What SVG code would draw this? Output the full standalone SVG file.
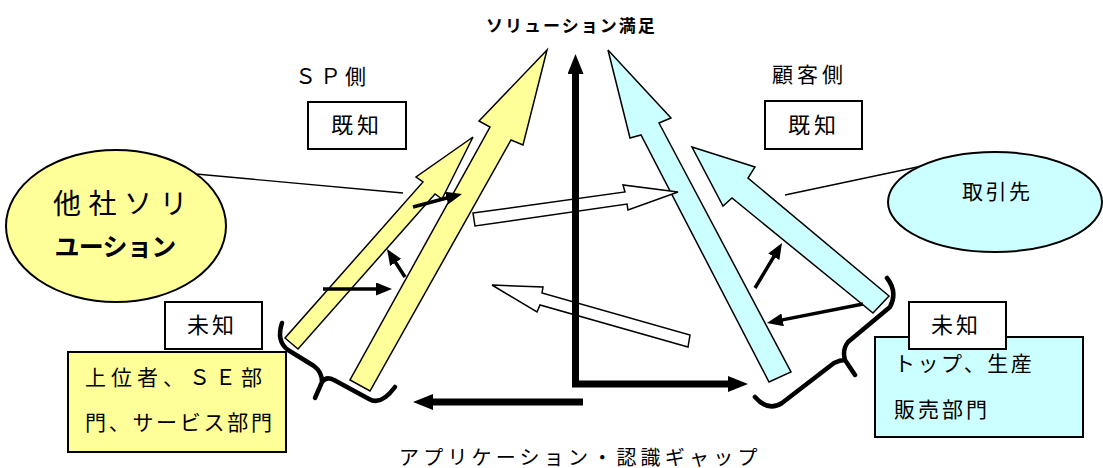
<svg xmlns="http://www.w3.org/2000/svg" width="1103" height="468" viewBox="0 0 1103 468">
<defs>
<style>
.t{font-family:"Liberation Sans","Noto Sans CJK JP",sans-serif;fill:#000}
.box{fill:#fff;stroke:#000;stroke-width:2}
.ybox{fill:#FFFF99;stroke:#000;stroke-width:2}
.bbox{fill:#CCFFFF;stroke:#000;stroke-width:2}
.yarrow{fill:#FFFF99;stroke:#000;stroke-width:1.5}
.barrow{fill:#CCFFFF;stroke:#000;stroke-width:1.5}
.warrow{fill:#fff;stroke:#000;stroke-width:1.5}
.axis{fill:none;stroke:#000;stroke-width:7}
.small{fill:none;stroke:#000;stroke-width:3.5}
.brace{fill:none;stroke:#000;stroke-width:4.5;stroke-linecap:round;stroke-linejoin:round}
.thin{fill:none;stroke:#000;stroke-width:1.3}
</style>
<marker id="big" markerUnits="userSpaceOnUse" markerWidth="20" markerHeight="16" refX="0" refY="8" orient="auto"><path d="M0,0 L20,8 L0,16 z" fill="#000"/></marker>
<marker id="sm" markerUnits="userSpaceOnUse" markerWidth="16" markerHeight="13" refX="8" refY="6.5" orient="auto"><path d="M0,0 L16,6.5 L0,13 z" fill="#000"/></marker>
</defs>
<rect width="1103" height="468" fill="#fff"/>

<g id="labels">
<text class="t" x="486" y="32" font-size="17" font-weight="bold" letter-spacing="2">ソリューション満足</text>
<text class="t" x="295" y="84" font-size="21" letter-spacing="4">ＳＰ側</text>
<text class="t" x="772" y="82" font-size="21" letter-spacing="4">顧客側</text>
<text class="t" x="399" y="465" font-size="20" letter-spacing="4.2">アプリケーション・認識ギャップ</text>
</g>

<g id="connectors">
<line class="thin" x1="185" y1="173" x2="403" y2="193"/>
<line class="thin" x1="785" y1="195" x2="922" y2="166"/>
<polygon id="yellow-short" class="yarrow" points="473,137 416,177 423,182 285,338 298,349 435,194 442,199"/>
<polygon id="yellow-long" class="yarrow" points="547,50 479,121 490,127 350,380 370,391 511,140 523,145"/>
<polygon id="blue-long" class="barrow" points="608,50 671,118 659,123 791,372 769,382 641,135 630,138"/>
<polygon id="blue-short" class="barrow" points="692,147 755,167 748,178 889,296 873,313 732,198 723,206"/>
<polygon id="white-right" class="warrow" points="473,213 625,192 623,185 678,192 628,210 627,204 475,226"/>
<polygon id="white-left" class="warrow" points="492,285 543,287 542,293 690,335 688,347 540,305 537,312"/>
<path class="axis" d="M575.5,384 L575.5,74" marker-end="url(#big)"/>
<path class="axis" d="M572,384 L728,384" marker-end="url(#big)"/>
<path class="axis" d="M583,402 L433,402" marker-end="url(#big)"/>
<path class="small" d="M413,207 L454.3,196" marker-end="url(#sm)"/>
<path class="small" d="M405,277 L391.3,255.7" marker-end="url(#sm)"/>
<path class="small" d="M323,289 L384,289" marker-end="url(#sm)"/>
<path class="small" d="M755,288 L777.9,249.9" marker-end="url(#sm)"/>
<path class="small" d="M863,304 L774.8,321.4" marker-end="url(#sm)"/>
<path class="brace" d="M282,323 Q276,341 288,350 L314,366 Q322,372 322,382 L315,398 M322,382 Q326,376 334,380 L369,399 Q381,406 395,387"/>
<path class="brace" d="M887,278 Q898,292 890,307 L848,342 Q842,350 845,360 L855,375 M845,360 Q840,360 834,363 L782,403 Q768,412 755,397"/>
</g>

<g id="node-other-solution">
<ellipse class="ybox" cx="116" cy="226" rx="110" ry="76" stroke-width="1.5"/>
<text class="t" x="53" y="214" font-size="28" letter-spacing="7.5">他社ソリ</text>
<text class="t" x="54.5" y="256" font-size="25" font-weight="bold" letter-spacing="-0.7">ユーション</text>
</g>

<g id="node-client">
<ellipse class="bbox" cx="995" cy="202" rx="107" ry="50" stroke-width="1.5"/>
<text class="t" x="962" y="199" font-size="21" letter-spacing="2.5">取引先</text>
</g>

<g id="node-sp-known">
<rect class="box" x="308" y="102" width="98" height="47"/>
<text class="t" x="331" y="133" font-size="22" letter-spacing="4">既知</text>
</g>

<g id="node-cust-known">
<rect class="box" x="765" y="101" width="97" height="48"/>
<text class="t" x="788" y="133" font-size="22" letter-spacing="4">既知</text>
</g>

<g id="node-sp-unknown-group">
<rect class="ybox" x="68" y="352" width="218" height="100"/>
<text class="t" x="85" y="385" font-size="21" letter-spacing="5">上位者、ＳＥ部</text>
<text class="t" x="85" y="430" font-size="21" letter-spacing="2.7">門、サービス部門</text>
</g>

<g id="node-sp-unknown">
<rect class="box" x="165" y="302" width="97" height="47"/>
<text class="t" x="187" y="333" font-size="22" letter-spacing="3">未知</text>
</g>

<g id="node-cust-unknown-group">
<rect class="bbox" x="875" y="337" width="208" height="100"/>
<text class="t" x="894" y="371" font-size="21" letter-spacing="2.5">トップ、生産</text>
<text class="t" x="894" y="417" font-size="21" letter-spacing="3">販売部門</text>
</g>

<g id="node-cust-unknown">
<rect class="box" x="909" y="302" width="97" height="47"/>
<text class="t" x="931" y="333" font-size="22" letter-spacing="3">未知</text>
</g>
</svg>
